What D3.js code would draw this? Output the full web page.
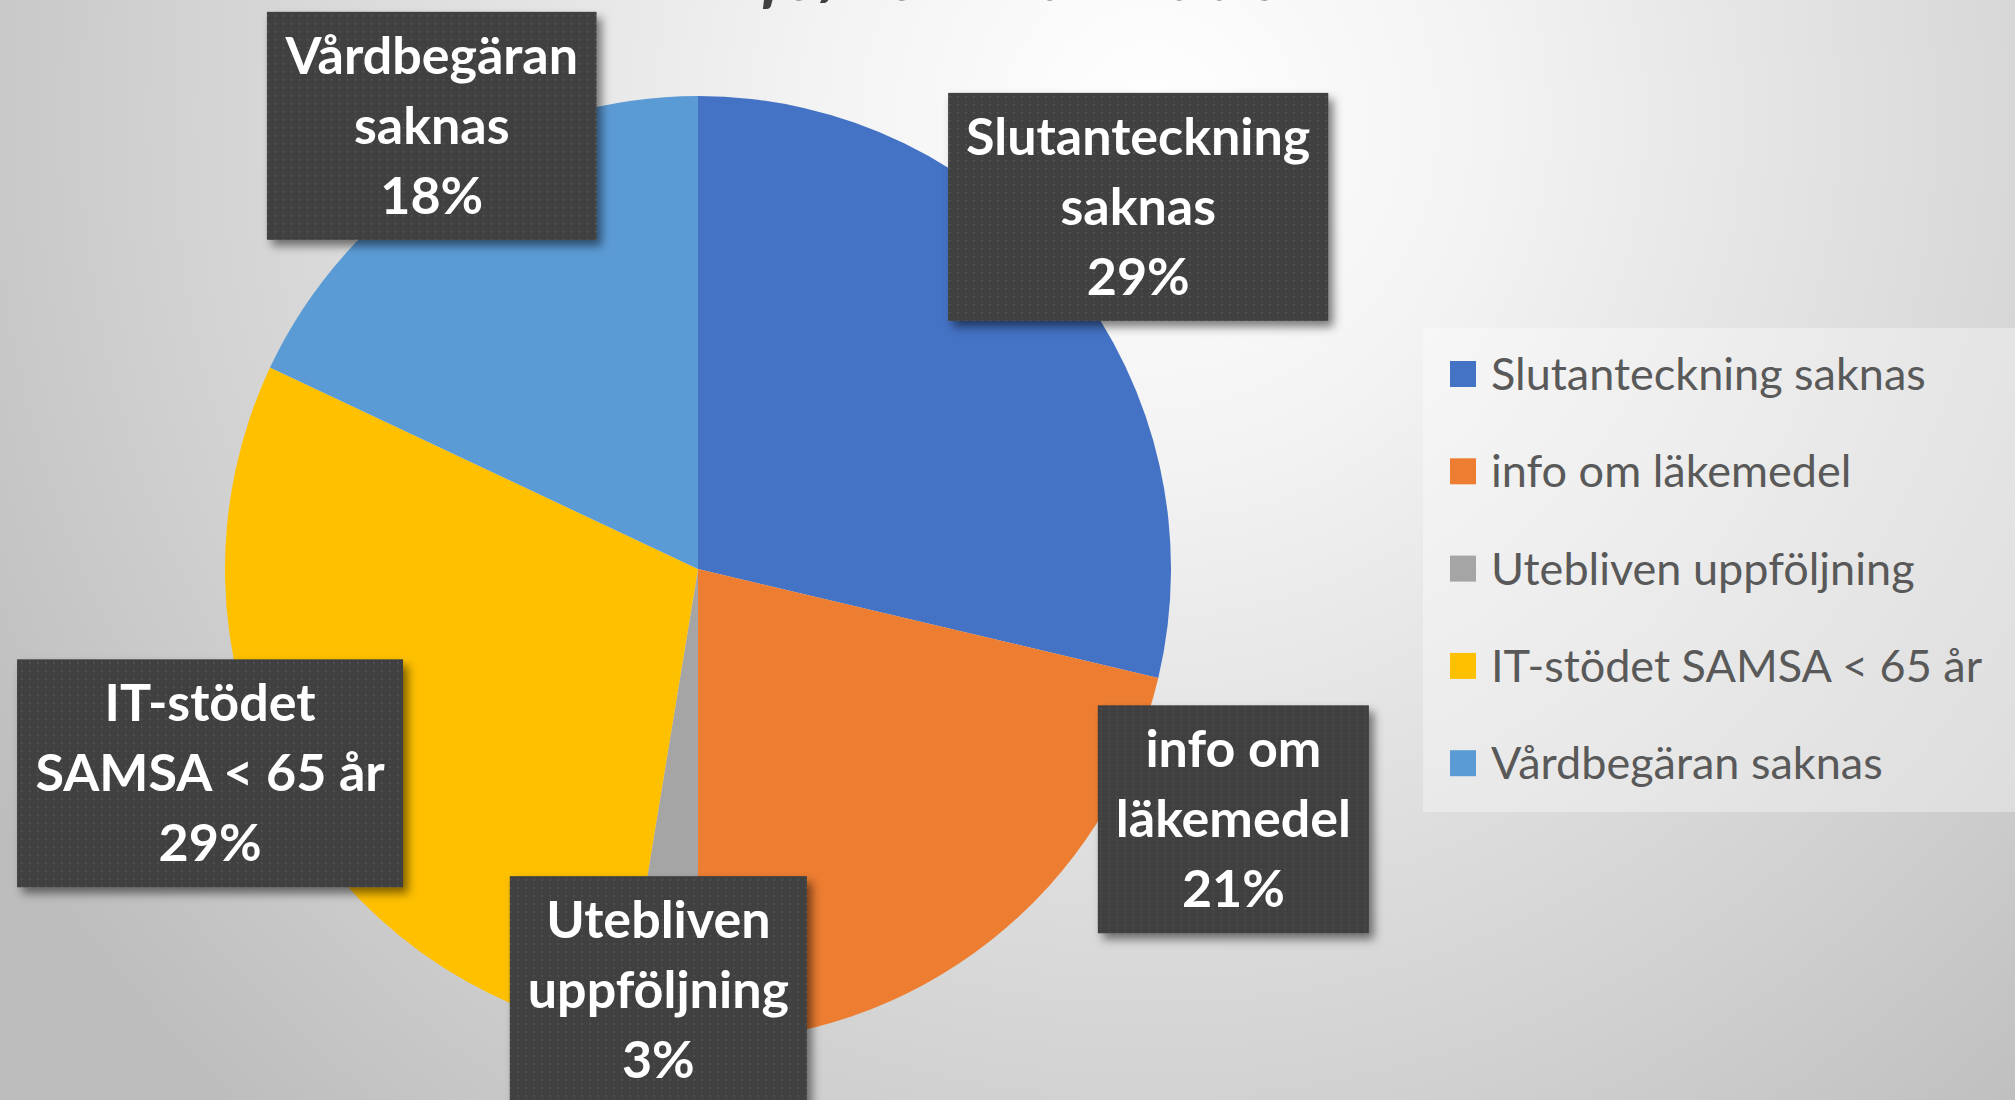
<!DOCTYPE html>
<html>
<head>
<meta charset="utf-8">
<script src="https://cdn.jsdelivr.net/npm/d3@7"></script>
<style>
  body { margin: 0; overflow: hidden; }
  svg { display: block; }
</style>
</head>
<body>
<div id="pie-chart"></div>
<script>
// Chart data (shares in percent)
const categories = ["Slutanteckning saknas", "info om läkemedel", "Utebliven uppföljning", "IT-stödet SAMSA < 65 år", "Vårdbegäran saknas"];
const shares = [28.7, 21.3, 2.6, 29.4, 18.0];
const labelLines = [["Slutanteckning", "saknas"], ["info om", "läkemedel"], ["Utebliven", "uppföljning"], ["IT-stödet", "SAMSA < 65 år"], ["Vårdbegäran", "saknas"]];
const titleLines = ["Orsaker till avvikelser vid", "info/kommunikation"];

const width = 2015, height = 1100;
const cx = 698, cy = 569, radius = 473;

const data = categories.map((c, i) => ({name: c, value: shares[i], lines: labelLines[i]}));
const total = d3.sum(shares);

const svg = d3.select("#pie-chart")
    .append("svg")
    .attr("width", width)
    .attr("height", height);

const defs = svg.append("defs");

// background gradient, light spot top middle
const bg = defs.append("radialGradient")
    .attr("id", "bg")
    .attr("gradientUnits", "userSpaceOnUse")
    .attr("cx", 1150).attr("cy", 120).attr("r", 1350);
bg.append("stop").attr("offset", "0").attr("stop-color", "#ffffff");
bg.append("stop").attr("offset", "0.25").attr("stop-color", "#f3f3f3");
bg.append("stop").attr("offset", "0.75").attr("stop-color", "#d0d0d0");
bg.append("stop").attr("offset", "1").attr("stop-color", "#bdbdbd");

// dotted pattern for the label boxes
const pat = defs.append("pattern")
    .attr("id", "dots")
    .attr("patternUnits", "userSpaceOnUse")
    .attr("width", 8).attr("height", 8);
pat.append("rect").attr("width", 8).attr("height", 8).attr("fill", "#3f3f3f");
pat.append("rect").attr("x", 3).attr("y", 1).attr("width", 1.6).attr("height", 1.6).attr("fill", "#5a5a5a");
pat.append("rect").attr("x", 3.2).attr("y", 5).attr("width", 1).attr("height", 2).attr("fill", "#4d4d4d");

const shadow = defs.append("filter")
    .attr("id", "shadow")
    .attr("x", "-20%").attr("y", "-20%")
    .attr("width", "140%").attr("height", "140%");
shadow.append("feDropShadow")
    .attr("dx", 5).attr("dy", 6)
    .attr("stdDeviation", 5)
    .attr("flood-color", "#000")
    .attr("flood-opacity", 0.5);

svg.append("rect")
    .attr("width", width)
    .attr("height", height)
    .attr("fill", "url(#bg)");

// Title (mostly above the visible area, as in the source slide)
svg.append("text")
    .attr("x", 1015)
    .attr("y", 0)
    .attr("text-anchor", "middle")
    .attr("font-family", "Lato, sans-serif")
    .attr("font-size", 72)
    .attr("font-weight", "bold")
    .attr("font-style", "italic")
    .attr("fill", "#404040")
    .selectAll("tspan")
    .data(titleLines)
    .join("tspan")
    .attr("x", 1015)
    .attr("dy", (d, i) => i === 0 ? -86 : 86)
    .text(d => d);

const color = d3.scaleOrdinal()
    .domain(categories)
    .range(["#4472C4", "#ED7D31", "#A5A5A5", "#FFC000", "#5B9BD5"]);

const pie = d3.pie()
    .sort(null)
    .value(d => d.value);

const arcs = pie(data);

const arc = d3.arc()
    .innerRadius(0)
    .outerRadius(radius);

const g = svg.append("g")
    .attr("transform", `translate(${cx},${cy})`);

g.selectAll("path")
    .data(arcs)
    .join("path")
    .attr("d", arc)
    .attr("fill", d => color(d.data.name));

// label placement: distance from centre and angle nudge (degrees)
const labelDist = [570, 591, 423, 529, 517];
const labelNudge = [-1.1, -26.6, 0.7, 5, 1.4];
const boxH = 228, pad = 18, lineH = 70;

const labels = g.selectAll("g.label")
    .data(arcs)
    .join("g")
    .attr("class", "label")
    .attr("transform", (d, i) => {
        const a = (d.startAngle + d.endAngle) / 2 + labelNudge[i] * Math.PI / 180;
        const r = labelDist[i];
        return `translate(${r * Math.sin(a)},${-r * Math.cos(a)})`;
    });

const boxes = labels.append("rect")
    .attr("fill", "url(#dots)")
    .attr("filter", "url(#shadow)");

const texts = labels.append("text")
    .attr("text-anchor", "middle")
    .attr("font-family", "Lato, sans-serif")
    .attr("font-weight", "bold")
    .attr("font-size", 52)
    .attr("fill", "#ffffff");

texts.selectAll("tspan")
    .data(d => d.data.lines.concat([Math.round(d.data.value / total * 100) + "%"]))
    .join("tspan")
    .attr("x", 0)
    .attr("y", (d, i) => (i - 1) * lineH + 18)
    .text(d => d);

boxes.each(function(d) {
    const t = d3.select(this.parentNode).select("text").node();
    const w = t.getBBox().width + pad * 2;
    d3.select(this)
        .attr("x", -w / 2)
        .attr("y", -boxH / 2)
        .attr("width", w)
        .attr("height", boxH);
});

// Legend
svg.append("rect")
    .attr("x", 1423).attr("y", 328)
    .attr("width", 600).attr("height", 484)
    .attr("fill", "#ffffff")
    .attr("fill-opacity", 0.35);

const legend = svg.append("g")
    .selectAll("g")
    .data(categories)
    .join("g")
    .attr("transform", (d, i) => `translate(1450,${374 + i * 97.3})`);

legend.append("rect")
    .attr("y", -13)
    .attr("width", 26)
    .attr("height", 26)
    .attr("fill", color);

legend.append("text")
    .attr("x", 41)
    .attr("y", 16)
    .attr("font-family", "Lato, sans-serif")
    .attr("font-size", 45)
    .attr("fill", "#595959")
    .text(d => d);
</script>
</body>
</html>
